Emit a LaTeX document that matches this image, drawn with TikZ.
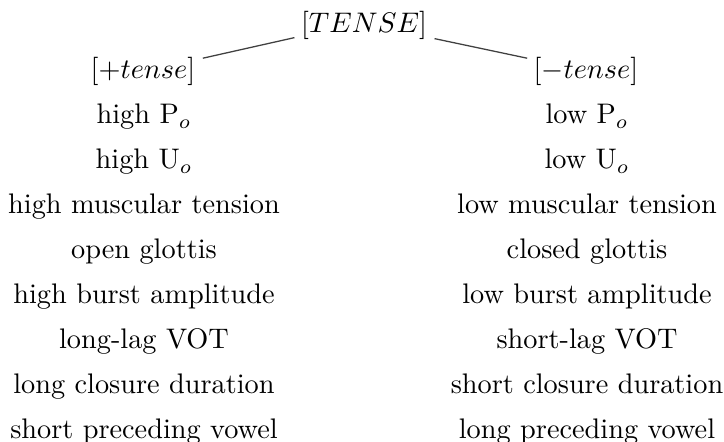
\documentclass[tikz,border=0pt]{standalone}
\usetikzlibrary{calc}
\begin{document}
\begin{tikzpicture}[x=0.3535pt,y=-0.3535pt,
  lbl/.style={inner sep=0pt,anchor=base},
  edge/.style={black!75,line width=0.45pt}]
\useasboundingbox (0,0) rectangle (724,442);
\node[lbl] (T) at (364,33) {$[TENSE]$};
\node[lbl] (P) at (143,79) {$[+tense]$};
\node[lbl] (M) at (586,79) {$[-tense]$};
\foreach \i/\l/\r in {
  1/{high P$_o$}/{low P$_o$},
  2/{high U$_o$}/{low U$_o$},
  3/{high muscular tension}/{low muscular tension},
  4/{open glottis}/{closed glottis},
  5/{high burst amplitude}/{low burst amplitude},
  6/{long-lag VOT}/{short-lag VOT},
  7/{long closure duration}/{short closure duration},
  8/{short preceding vowel}/{long preceding vowel}}{
  \node[lbl] (L\i) at (144,{79+44.9*\i}) {\l};
  \node[lbl] (R\i) at (587,{79+44.9*\i}) {\r};
}
\draw[edge] ($(T.south west)+(-6,-3)$) -- ($(P.north east)+(7,1)$);
\draw[edge] ($(T.south east)+(7,-2)$) -- ($(M.north west)+(-6,1)$);
\end{tikzpicture}
\end{document}
